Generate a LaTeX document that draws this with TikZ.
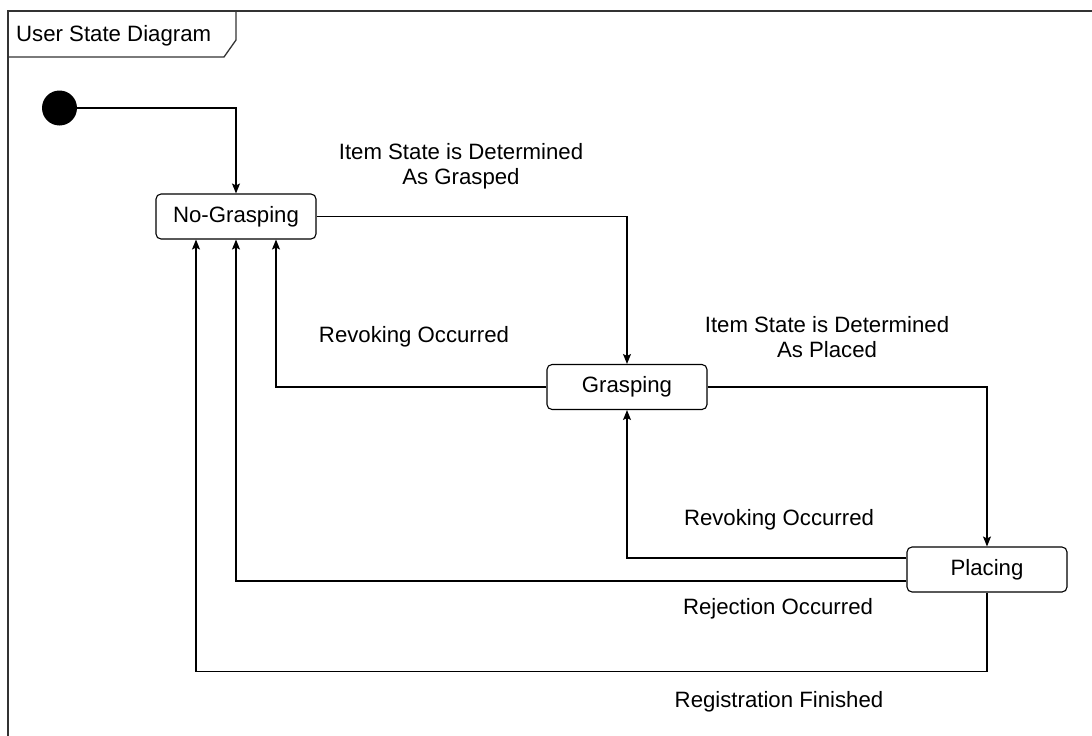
\documentclass[tikz,border=0pt]{standalone}
\usepackage{fontspec}
\setmainfont{Liberation Sans}
\usetikzlibrary{arrows.meta}
\begin{document}
\begin{tikzpicture}[x=1pt,y=-1pt,
  state/.style={draw=black, line width=1.1pt, rounded corners=5pt, fill=white,
    minimum width=160pt, minimum height=45pt, inner sep=0pt,
    font=\fontsize{22.2}{25}\selectfont},
  flow/.style={draw=black, line width=1.1pt, -{Stealth[length=10pt,width=8pt,inset=2pt]}},
  lbl/.style={font=\fontsize{22.2}{25}\selectfont, align=center, inner sep=0pt},
  framing/.style={draw=black!80, line width=1.3pt},
]
\useasboundingbox (0,0) rectangle (1092,736);
\begin{scope}
\clip (0,0) rectangle (1092,736);
% diagram frame with its name tab
\draw[framing] (8,760) -- (8,11) -- (1110,11);
\draw[framing] (8,57) -- (224,57) -- (236,40) -- (236,11);
\end{scope}
\node[lbl, anchor=west] (title) at (16,36) {User State Diagram};

% states
\node[circle, fill=black, minimum size=35pt, inner sep=0pt] (init) at (59.5,108) {};
\node[state] (ng) at (236,216.5) {No-Grasping};
\node[state] (gr) at (627,387) {Grasping};
\node[state] (pl) at (987,569.5) {Placing};

% transitions
\draw[flow] (init.east) -| (ng.north);
\draw[flow] (ng.east) -| (gr.north);
\draw[flow] (gr.west) -| ([xshift=40pt]ng.south);
\draw[flow] (gr.east) -| (pl.north);
\draw[flow] ([yshift=11.5pt]pl.west) -| (gr.south);
\draw[flow] ([yshift=-11.5pt]pl.west) -| (ng.south);
\draw[flow] (pl.south) -- ++(0,79) -| ([xshift=-40pt]ng.south);

% transition labels
\node[lbl] (l1) at (461,166) {Item State is Determined\\As Grasped};
\node[lbl] (l2) at (414,337) {Revoking Occurred};
\node[lbl] (l3) at (827,337) {Item State is Determined\\As Placed};
\node[lbl] (l4) at (779,520) {Revoking Occurred};
\node[lbl] (l5) at (778,609) {Rejection Occurred};
\node[lbl] (l6) at (779,702) {Registration Finished};
\end{tikzpicture}
\end{document}
